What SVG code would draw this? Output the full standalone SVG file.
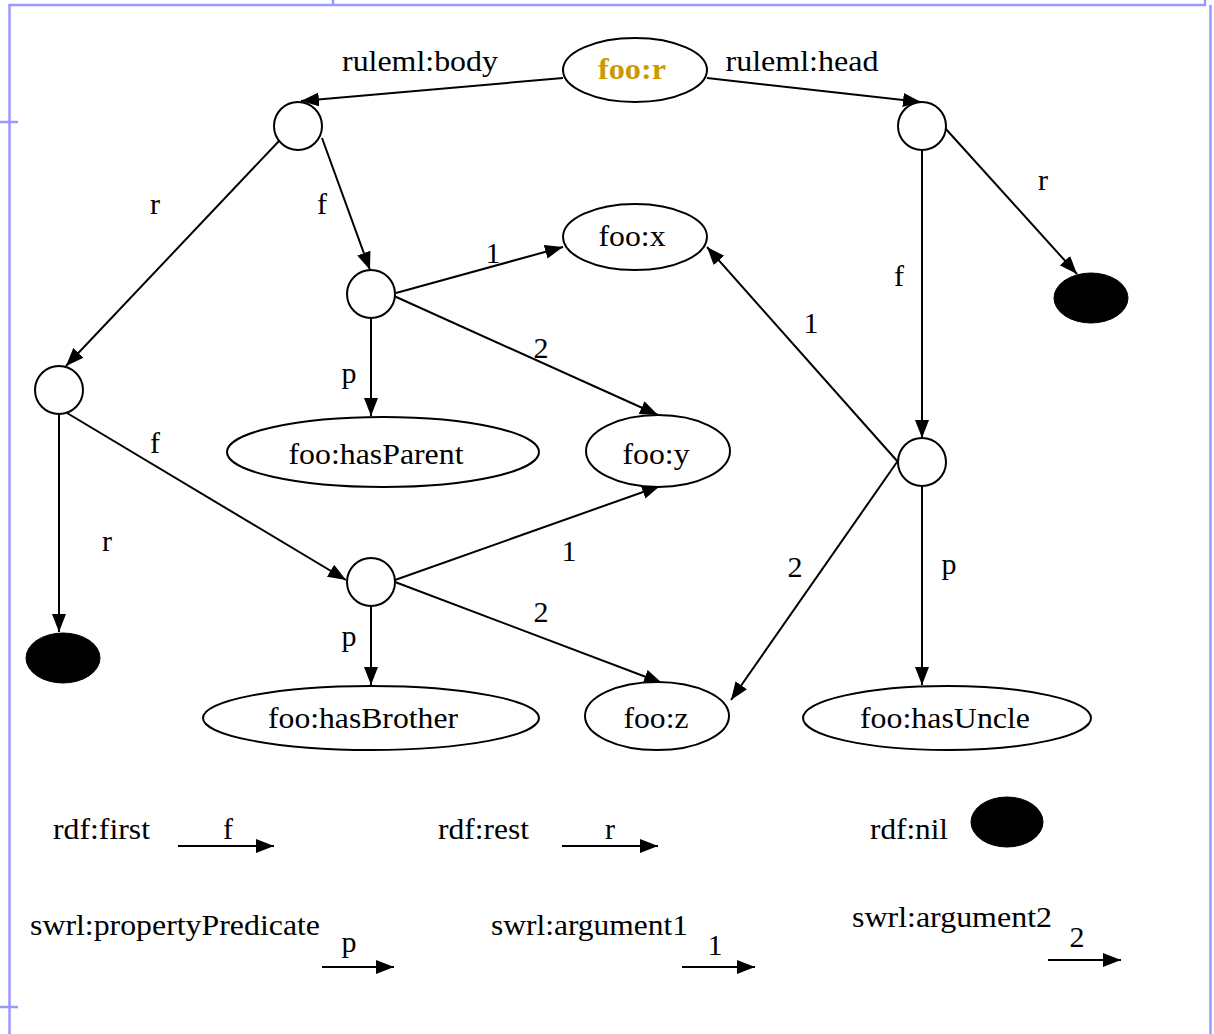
<svg xmlns="http://www.w3.org/2000/svg" width="1214" height="1034" viewBox="0 0 1214 1034">
<style>
text{font-family:"Liberation Serif","Times New Roman",serif;font-size:30px;fill:#000}
.lbl{text-anchor:middle}
.title{font-weight:bold;fill:#CC9900}
.node{fill:#fff;stroke:#000;stroke-width:2}
.nil{fill:#000;stroke:#000;stroke-width:1}
.edge{stroke:#000;stroke-width:2;fill:none;marker-end:url(#arr)}
.frame{stroke:#9999ff;stroke-width:2.5;fill:none}
</style>
<defs>
<marker id="arr" markerUnits="userSpaceOnUse" markerWidth="20" markerHeight="16" refX="18" refY="7" orient="auto">
<path d="M0,0 L18,7 L0,14 z" fill="#000"/>
</marker>
</defs>
<rect width="1214" height="1034" fill="#fff"/>
<g id="frame">
<path class="frame" d="M9.5,1034 V5 H333 V0 M333,5 H1205 V0 M1210.5,5 V1034 M0,122 H18 M0,1007 H18"/>
</g>
<g id="connectors">
<line class="edge" x1="563" y1="78" x2="301" y2="101"/>
<line class="edge" x1="707" y1="78" x2="921" y2="102"/>
<line class="edge" x1="279" y1="141" x2="66" y2="366"/>
<line class="edge" x1="322" y1="138" x2="370" y2="270"/>
<line class="edge" x1="396" y1="293" x2="563" y2="247"/>
<line class="edge" x1="394" y1="296" x2="658" y2="415"/>
<line class="edge" x1="371" y1="318" x2="371" y2="416"/>
<line class="edge" x1="59" y1="414" x2="59" y2="632"/>
<line class="edge" x1="67" y1="413" x2="346" y2="580"/>
<line class="edge" x1="395" y1="580" x2="660" y2="486"/>
<line class="edge" x1="395" y1="582" x2="662" y2="683"/>
<line class="edge" x1="371" y1="606" x2="371" y2="685"/>
<line class="edge" x1="945" y1="128" x2="1077" y2="274"/>
<line class="edge" x1="922" y1="150" x2="922" y2="438"/>
<line class="edge" x1="898" y1="462" x2="707" y2="247"/>
<line class="edge" x1="897" y1="462" x2="731" y2="700"/>
<line class="edge" x1="922" y1="486" x2="922" y2="685"/>
<line class="edge" x1="178" y1="846" x2="274" y2="846"/>
<line class="edge" x1="562" y1="846" x2="658" y2="846"/>
<line class="edge" x1="322" y1="967" x2="394" y2="967"/>
<line class="edge" x1="682" y1="967" x2="755" y2="967"/>
<line class="edge" x1="1048" y1="960" x2="1121" y2="960"/>
</g>
<g id="edge-labels">
<text class="lbl" x="420" y="71" textLength="156" lengthAdjust="spacingAndGlyphs">ruleml:body</text>
<text class="lbl" x="802" y="71" textLength="153" lengthAdjust="spacingAndGlyphs">ruleml:head</text>
<text class="lbl" x="155" y="214">r</text>
<text class="lbl" x="322" y="214">f</text>
<text class="lbl" x="493" y="263">1</text>
<text class="lbl" x="541" y="358">2</text>
<text class="lbl" x="349" y="383">p</text>
<text class="lbl" x="811" y="333">1</text>
<text class="lbl" x="899" y="286">f</text>
<text class="lbl" x="1043" y="190">r</text>
<text class="lbl" x="155" y="453">f</text>
<text class="lbl" x="107" y="551">r</text>
<text class="lbl" x="569" y="561">1</text>
<text class="lbl" x="541" y="622">2</text>
<text class="lbl" x="349" y="646">p</text>
<text class="lbl" x="795" y="577">2</text>
<text class="lbl" x="949" y="574">p</text>
</g>
<g id="n-foo-r"><ellipse class="node" cx="635" cy="70" rx="72" ry="32"/><text class="lbl title" x="632" y="79" textLength="68" lengthAdjust="spacingAndGlyphs">foo:r</text></g>
<g id="n-foo-x"><ellipse class="node" cx="635" cy="237" rx="72" ry="33"/><text class="lbl" x="632" y="246" textLength="67" lengthAdjust="spacingAndGlyphs">foo:x</text></g>
<g id="n-foo-hasParent"><ellipse class="node" cx="383" cy="452" rx="156" ry="35"/><text class="lbl" x="376" y="464" textLength="175" lengthAdjust="spacingAndGlyphs">foo:hasParent</text></g>
<g id="n-foo-y"><ellipse class="node" cx="658" cy="451" rx="72" ry="36"/><text class="lbl" x="656" y="464" textLength="67" lengthAdjust="spacingAndGlyphs">foo:y</text></g>
<g id="n-foo-hasBrother"><ellipse class="node" cx="371" cy="718" rx="168" ry="32"/><text class="lbl" x="363" y="728" textLength="190" lengthAdjust="spacingAndGlyphs">foo:hasBrother</text></g>
<g id="n-foo-z"><ellipse class="node" cx="657" cy="716" rx="72" ry="34"/><text class="lbl" x="656" y="728" textLength="65" lengthAdjust="spacingAndGlyphs">foo:z</text></g>
<g id="n-foo-hasUncle"><ellipse class="node" cx="947" cy="718" rx="144" ry="32"/><text class="lbl" x="945" y="728" textLength="170" lengthAdjust="spacingAndGlyphs">foo:hasUncle</text></g>
<g id="n-body"><circle class="node" cx="298" cy="126" r="24"/></g>
<g id="n-head"><circle class="node" cx="922" cy="126" r="24"/></g>
<g id="n-atom1"><circle class="node" cx="371" cy="294" r="24"/></g>
<g id="n-list2"><circle class="node" cx="59" cy="390" r="24"/></g>
<g id="n-atom2"><circle class="node" cx="371" cy="582" r="24"/></g>
<g id="n-atom3"><circle class="node" cx="922" cy="462" r="24"/></g>
<g id="n-nil1"><ellipse class="nil" cx="1091" cy="298" rx="37" ry="25"/></g>
<g id="n-nil2"><ellipse class="nil" cx="63" cy="658" rx="37" ry="25"/></g>
<g id="legend">
<text x="53" y="839" textLength="97" lengthAdjust="spacingAndGlyphs">rdf:first</text>
<text class="lbl" x="228" y="839">f</text>
<text x="438" y="839" textLength="91" lengthAdjust="spacingAndGlyphs">rdf:rest</text>
<text class="lbl" x="610" y="839">r</text>
<text x="870" y="839" textLength="78" lengthAdjust="spacingAndGlyphs">rdf:nil</text>
<ellipse class="nil" cx="1007" cy="822" rx="36" ry="25"/>
<text x="30" y="935" textLength="290" lengthAdjust="spacingAndGlyphs">swrl:propertyPredicate</text>
<text class="lbl" x="349" y="952">p</text>
<text x="491" y="935" textLength="197" lengthAdjust="spacingAndGlyphs">swrl:argument1</text>
<text class="lbl" x="715" y="955">1</text>
<text x="852" y="927" textLength="200" lengthAdjust="spacingAndGlyphs">swrl:argument2</text>
<text class="lbl" x="1077" y="947">2</text>
</g>
</svg>
